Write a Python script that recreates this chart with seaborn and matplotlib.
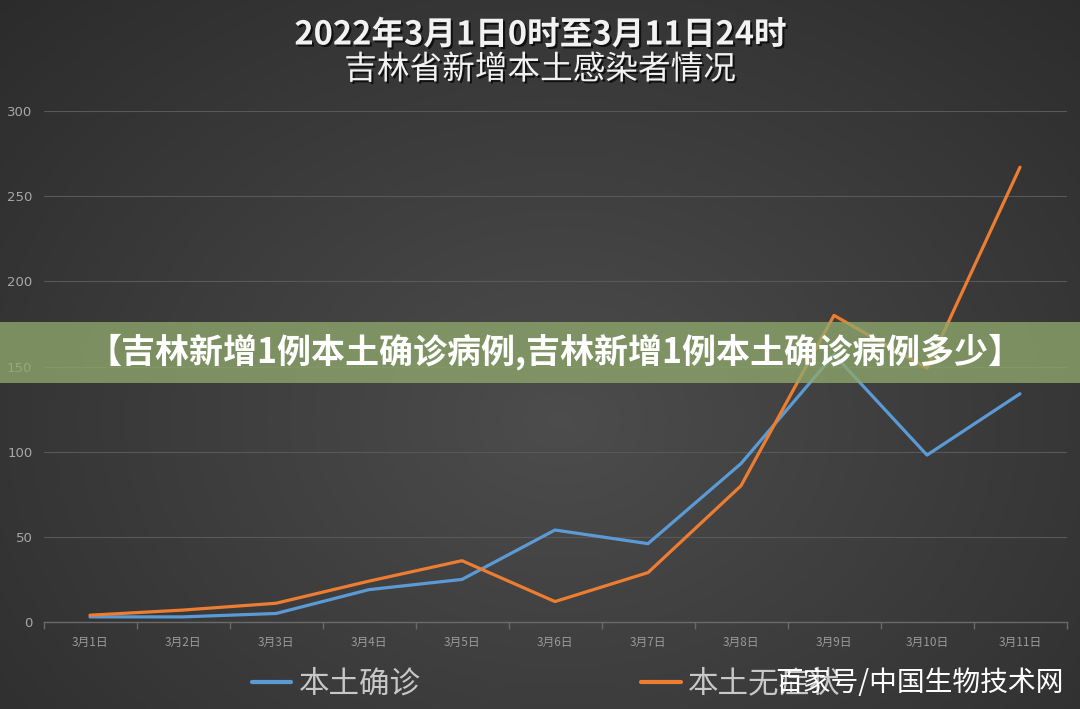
import numpy as np
import pandas as pd
import matplotlib
matplotlib.use("Agg")
import matplotlib.pyplot as plt
import matplotlib.patheffects as pe
from matplotlib.patches import Rectangle
import seaborn as sns

days = ["3月1日", "3月2日", "3月3日", "3月4日", "3月5日", "3月6日",
        "3月7日", "3月8日", "3月9日", "3月10日", "3月11日"]
confirmed = [3, 3, 5, 19, 25, 54, 46, 93, 157, 98, 134]
asymptomatic = [4, 7, 11, 24, 36, 12, 29, 80, 180, 149, 267]
series_names = ["本土确诊", "本土无症状"]
colors = ["#5b9bd5", "#ed7d31"]

title1 = "2022年3月1日0时至3月11日24时"
title2 = "吉林省新增本土感染者情况"
banner = "【吉林新增1例本土确诊病例,吉林新增1例本土确诊病例多少】"
watermark = "百家号/中国生物技术网"

df = pd.DataFrame({"day": days * 2,
                   "value": confirmed + asymptomatic,
                   "series": [series_names[0]] * len(days) + [series_names[1]] * len(days)})

sns.set_theme(style="dark")
plt.rcParams['font.family'] = ['Noto Sans CJK SC', 'DejaVu Sans']

W, H = 1080, 709
fig = plt.figure(figsize=(W / 100, H / 100), dpi=100)

# background radial gradient
bg = fig.add_axes([0, 0, 1, 1], zorder=-10)
yy, xx = np.mgrid[0:H, 0:W]
r = np.sqrt(((xx - 560) / 720) ** 2 + ((yy - 420) / 560) ** 2)
img = np.clip(0.30 - 0.12 * r, 0.16, 0.31)
bg.imshow(np.dstack([img] * 3), aspect="auto", extent=[0, W, H, 0], interpolation="bilinear")
bg.set_axis_off()

ax = fig.add_axes([43.5 / W, 1 - 622 / H, 1023 / W, 511 / H])
ax.set_facecolor("none")
sns.lineplot(data=df, x="day", y="value", hue="series", palette=colors,
             linewidth=2.3, ax=ax, legend=False, sort=False)
ax.set_xlim(-0.5, len(days) - 0.5)
ax.set_ylim(0, 300)
ax.set_yticks([0, 50, 100, 150, 200, 250, 300])
ax.set_xlabel("")
ax.set_ylabel("")
ax.grid(axis="y", color="#585858", linewidth=0.8)
ax.grid(axis="x", visible=False)
for s in ["top", "right", "left"]:
    ax.spines[s].set_visible(False)
ax.spines["bottom"].set_color("#6a6a6a")
ax.spines["bottom"].set_linewidth(1)
ax.set_xticks(np.arange(-0.5, len(days) + 0.5, 1), minor=True)
ax.tick_params(axis="x", which="major", length=0, colors="#9a9a9a", labelsize=8.5, pad=10)
ax.tick_params(axis="x", which="minor", length=5, color="#6a6a6a", bottom=True)
ax.tick_params(axis="y", length=0, colors="#a8a8a8", labelsize=9.5, pad=8)
for t in ax.get_yticklabels():
    t.set_family(['DejaVu Sans'])

shadow = [pe.withSimplePatchShadow(offset=(1.5, -1.5), shadow_rgbFace="black", alpha=0.7)]
fig.text(540 / W, 1 - 35 / H, title1, ha="center", va="center", fontsize=23.5,
         fontweight="bold", color="#f2f2f2", path_effects=shadow)
fig.text(540 / W, 1 - 70 / H, title2, ha="center", va="center", fontsize=23.5,
         color="#f2f2f2", path_effects=shadow)

# legend
handles = ax.get_lines()[:2]
leg = fig.legend(handles, series_names, loc="center left", ncol=2,
                 bbox_to_anchor=(224 / W, 1 - 684 / H), frameon=False,
                 fontsize=22, handlelength=1.3, handletextpad=0.25,
                 columnspacing=7.2, labelcolor="#c8c8c8")
for ln in leg.get_lines():
    ln.set_linewidth(3)

# banner overlay
fig.add_artist(Rectangle((0, 1 - 383 / H), 1, 61 / H, transform=fig.transFigure,
                         facecolor="#8fa86c", alpha=0.78, edgecolor="none", zorder=5))
fig.text(555 / W, 1 - 352 / H, banner, ha="center", va="center", fontsize=24.5,
         fontweight="bold", color="white", zorder=6)

fig.text(1064 / W, 1 - 683 / H, watermark, ha="right", va="center", fontsize=20,
         color="white", zorder=7)

fig.savefig("out.png", dpi=100)
